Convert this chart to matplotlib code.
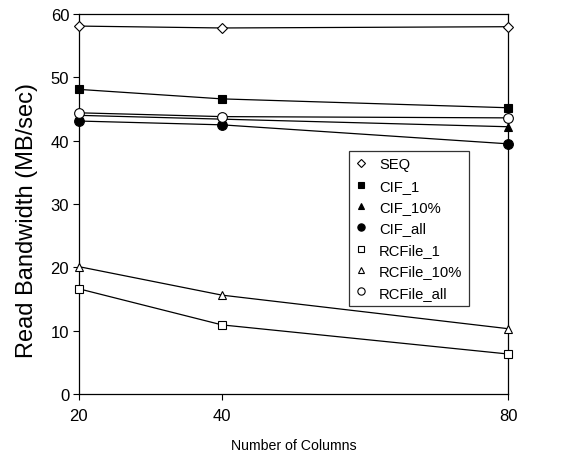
import matplotlib
matplotlib.use('Agg')
import matplotlib.pyplot as plt

plt.rcParams['font.family'] = ['Liberation Sans', 'DejaVu Sans']

# Data
columns = [20, 40, 80]
seq = [58.1, 57.8, 58.0]
cif_1 = [48.1, 46.6, 45.2]
cif_10 = [44.0, 43.4, 42.2]
cif_all = [43.1, 42.5, 39.5]
rcfile_1 = [16.6, 10.9, 6.3]
rcfile_10 = [20.1, 15.6, 10.3]
rcfile_all = [44.4, 43.8, 43.6]

series = [
    ('SEQ', seq, 'D', 'white'),
    ('CIF_1', cif_1, 's', 'black'),
    ('CIF_10%', cif_10, '^', 'black'),
    ('CIF_all', cif_all, 'o', 'black'),
    ('RCFile_1', rcfile_1, 's', 'white'),
    ('RCFile_10%', rcfile_10, '^', 'white'),
    ('RCFile_all', rcfile_all, 'o', 'white'),
]

fig = plt.figure(figsize=(5.8, 4.56), dpi=100)
ax = fig.add_axes([0.136, 0.134, 0.740, 0.833])

sizes = {'D': 5, 's': 6, '^': 6, 'o': 7}
for label, vals, marker, face in series:
    ax.plot(columns, vals, color='black', linewidth=0.9, marker=marker,
            markersize=sizes[marker], markerfacecolor=face,
            markeredgecolor='black', markeredgewidth=0.8, label=label,
            clip_on=False, zorder=3)

ax.set_xlim(20, 80)
ax.set_ylim(0, 60)
ax.set_xticks(columns)
ax.set_yticks(range(0, 61, 10))
ax.tick_params(axis='both', direction='out', length=4, width=0.8,
               labelsize=12, right=False, top=False)
ax.tick_params(axis='y', pad=3)
ax.tick_params(axis='x', pad=6)
for s in ax.spines.values():
    s.set_linewidth(0.9)

ax.set_ylabel('Read Bandwidth (MB/sec)', fontsize=17)
ax.yaxis.set_label_coords(-0.096, 0.46)
ax.set_xlabel('Number of Columns', fontsize=10.2)
ax.xaxis.set_label_coords(0.5, -0.115)

# Legend shows markers only
leg = ax.legend(loc='upper left', bbox_to_anchor=(0.629, 0.64),
                borderaxespad=0, fontsize=10.6, frameon=True, fancybox=False,
                edgecolor='black', handlelength=0.8, handletextpad=0.8,
                labelspacing=0.5, borderpad=0.45, markerscale=0.75)
leg.get_frame().set_linewidth(0.9)
for line in leg.get_lines():
    line.set_linestyle('none')

fig.savefig('out.png', dpi=100)
